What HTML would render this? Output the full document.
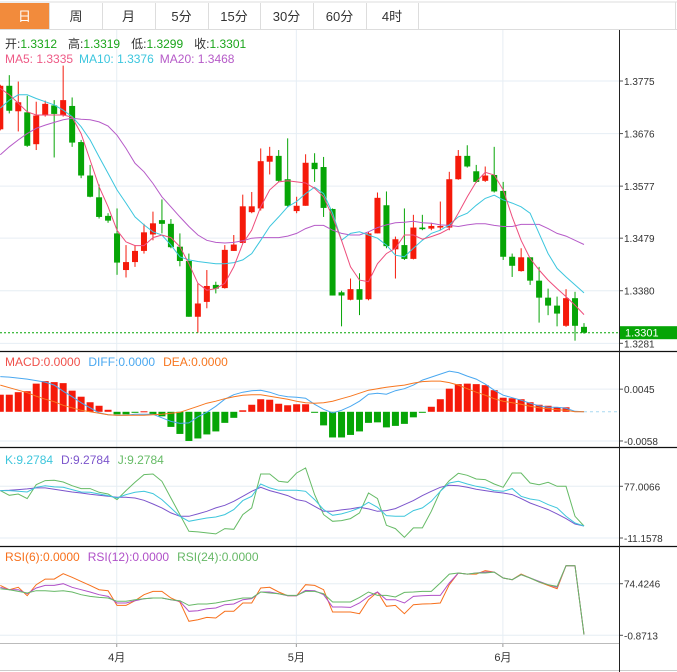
<!DOCTYPE html>
<html><head><meta charset="utf-8"><style>
html,body{margin:0;padding:0;background:#fff;}
svg{display:block;font-family:"Liberation Sans","Noto Sans CJK SC",sans-serif;}
</style></head><body>
<svg id="c" width="677" height="672" viewBox="0 0 677 672" xmlns="http://www.w3.org/2000/svg">
<rect x="0" y="0" width="677" height="672" fill="#fff"/>
<g>
<line x1="0" y1="2" x2="677" y2="2" stroke="#ddd"/>
<line x1="0" y1="29.5" x2="677" y2="29.5" stroke="#ddd"/>
<line x1="675.5" y1="2" x2="675.5" y2="29" stroke="#ddd"/>
<rect x="0" y="3" width="49" height="26" fill="#f28b3c"/>
<text x="24.5" y="21" text-anchor="middle" font-size="13" fill="#fff">日</text>
<g fill="#333" font-size="13" text-anchor="middle">
<text x="76" y="21">周</text>
<text x="128.5" y="21">月</text>
<text x="181.5" y="21">5分</text>
<text x="234" y="21">15分</text>
<text x="286.5" y="21">30分</text>
<text x="339.5" y="21">60分</text>
<text x="392" y="21">4时</text>
</g>
<g stroke="#ddd"><line x1="49.5" y1="3" x2="49.5" y2="29"/><line x1="102.5" y1="3" x2="102.5" y2="29"/><line x1="155.5" y1="3" x2="155.5" y2="29"/><line x1="208.5" y1="3" x2="208.5" y2="29"/><line x1="260.5" y1="3" x2="260.5" y2="29"/><line x1="313.5" y1="3" x2="313.5" y2="29"/><line x1="366.5" y1="3" x2="366.5" y2="29"/><line x1="418.5" y1="3" x2="418.5" y2="29"/></g>
</g>
<g id="grid"></g>
<g id="marks"></g>
<g id="labels"></g>
</svg>
<script>
const opens=[1.3684,1.3766,1.3718,1.3716,1.3656,1.3710,1.3729,1.3711,1.3728,1.3660,1.3597,1.3556,1.3521,1.3488,1.3419,1.3434,1.3455,1.3486,1.3513,1.3506,1.3463,1.3436,1.3331,1.3359,1.3391,1.3385,1.3455,1.3470,1.3528,1.3535,1.3623,1.3634,1.3590,1.3530,1.3540,1.3621,1.3613,1.3534,1.3377,1.3363,1.3383,1.3364,1.3488,1.3541,1.3458,1.3466,1.3440,1.3499,1.3497,1.3499,1.3499,1.3590,1.3634,1.3605,1.3587,1.3598,1.3568,1.3444,1.3417,1.3443,1.3399,1.3367,1.3352,1.3314,1.3366,1.3312];
const closes=[1.3766,1.3719,1.3735,1.3653,1.3710,1.3732,1.3713,1.3739,1.3659,1.3597,1.3557,1.3519,1.3512,1.3433,1.3434,1.3455,1.3490,1.3507,1.3506,1.3462,1.3436,1.3331,1.3356,1.3389,1.3384,1.3457,1.3467,1.3539,1.3539,1.3624,1.3634,1.3587,1.3540,1.3540,1.3621,1.3609,1.3536,1.3371,1.3371,1.3383,1.3363,1.3488,1.3555,1.3464,1.3477,1.3440,1.3499,1.3496,1.3502,1.3502,1.3590,1.3634,1.3614,1.3585,1.3597,1.3567,1.3444,1.3427,1.3443,1.3399,1.3367,1.3352,1.3337,1.3366,1.3314,1.3301];
const highs=[1.3768,1.3786,1.3774,1.3747,1.3736,1.3738,1.3739,1.3804,1.3744,1.3664,1.3617,1.3580,1.3526,1.3535,1.3466,1.3466,1.3506,1.3529,1.3552,1.3515,1.3488,1.3450,1.3394,1.3419,1.3397,1.3466,1.3485,1.3561,1.3566,1.3648,1.3651,1.3645,1.3667,1.3557,1.3637,1.3639,1.3632,1.3535,1.3380,1.3403,1.3413,1.3491,1.3565,1.3567,1.3482,1.3535,1.3523,1.3523,1.3508,1.3548,1.3604,1.3645,1.3654,1.3617,1.3614,1.3651,1.3585,1.3450,1.3460,1.3443,1.3425,1.3384,1.3369,1.3383,1.3378,1.3319];
const lows=[1.3682,1.3714,1.3680,1.3651,1.3645,1.3708,1.3631,1.3708,1.3651,1.3592,1.3556,1.3516,1.3508,1.3410,1.3405,1.3425,1.3450,1.3475,1.3488,1.3460,1.3426,1.3331,1.3301,1.3347,1.3375,1.3384,1.3455,1.3469,1.3526,1.3531,1.3599,1.3585,1.3537,1.3526,1.3540,1.3585,1.3519,1.3371,1.3313,1.3362,1.3334,1.3362,1.3488,1.3460,1.3403,1.3438,1.3439,1.3494,1.3494,1.3494,1.3494,1.3589,1.3612,1.3583,1.3585,1.3565,1.3438,1.3406,1.3416,1.3391,1.3320,1.3334,1.3313,1.3312,1.3286,1.3299];
const ma5=[1.3761,1.3749,1.3733,1.3717,1.3711,1.3711,1.3711,1.3711,1.3707,1.3676,1.3626,1.3576,1.3538,1.3494,1.3472,1.3465,1.3465,1.3480,1.3485,1.3480,1.3463,1.3431,1.3394,1.3381,1.3384,1.3394,1.3425,1.3469,1.3494,1.3538,1.3570,1.3585,1.3587,1.3585,1.3583,1.3573,1.3557,1.3519,1.3475,1.3425,1.3400,1.3397,1.3431,1.3450,1.3460,1.3485,1.3485,1.3477,1.3482,1.3488,1.3497,1.3526,1.3557,1.3585,1.3603,1.3598,1.3570,1.3519,1.3475,1.3441,1.3419,1.3400,1.3384,1.3369,1.3353,1.3335];
const ma10=[1.3724,1.3739,1.3749,1.3749,1.3742,1.3736,1.3730,1.3720,1.3708,1.3689,1.3664,1.3632,1.3601,1.3570,1.3545,1.3519,1.3504,1.3491,1.3485,1.3466,1.3444,1.3438,1.3435,1.3433,1.3431,1.3431,1.3433,1.3438,1.3450,1.3475,1.3501,1.3519,1.3538,1.3548,1.3563,1.3575,1.3563,1.3526,1.3475,1.3488,1.3491,1.3485,1.3479,1.3466,1.3447,1.3444,1.3460,1.3475,1.3488,1.3494,1.3504,1.3519,1.3526,1.3541,1.3554,1.3560,1.3551,1.3545,1.3538,1.3526,1.3488,1.3450,1.3422,1.3406,1.3391,1.3376];
const ma20=[1.3636,1.3651,1.3664,1.3676,1.3686,1.3692,1.3697,1.3702,1.3705,1.3703,1.3702,1.3698,1.3690,1.3673,1.3648,1.3620,1.3604,1.3582,1.3557,1.3538,1.3519,1.3501,1.3485,1.3475,1.3471,1.3470,1.3471,1.3474,1.3479,1.3480,1.3480,1.3480,1.3483,1.3488,1.3497,1.3503,1.3503,1.3494,1.3488,1.3485,1.3485,1.3491,1.3499,1.3504,1.3508,1.3509,1.3511,1.3508,1.3507,1.3504,1.3503,1.3501,1.3504,1.3506,1.3506,1.3503,1.3501,1.3501,1.3505,1.3505,1.3505,1.3497,1.3488,1.3483,1.3475,1.3467];
const macdHist=[0.0034,0.0034,0.0039,0.0041,0.0056,0.0061,0.0059,0.0057,0.0042,0.0030,0.0019,0.0012,0.0004,-0.0005,-0.0005,-0.0001,0.0001,-0.0005,-0.0009,-0.0030,-0.0044,-0.0058,-0.0053,-0.0045,-0.0039,-0.0022,-0.0012,0.0003,0.0014,0.0025,0.0024,0.0016,0.0013,0.0015,0.0015,-0.0001,-0.0027,-0.0051,-0.0051,-0.0046,-0.0039,-0.0022,-0.0021,-0.0031,-0.0028,-0.0024,-0.0011,-0.0001,0.0010,0.0025,0.0046,0.0055,0.0056,0.0055,0.0053,0.0043,0.0028,0.0027,0.0025,0.0019,0.0014,0.0012,0.0009,0.0009,0,0];
const diff=[0.0070,0.0069,0.0067,0.0065,0.0062,0.0059,0.0053,0.0041,0.0030,0.0018,0.0008,-0.0002,-0.0006,-0.0007,-0.0007,-0.0005,-0.0005,-0.0005,-0.0012,-0.0019,-0.0023,-0.0022,-0.0010,-0.0001,0.0011,0.0025,0.0034,0.0039,0.0042,0.0043,0.0039,0.0033,0.0030,0.0029,0.0027,0.0015,0.0005,-0.0002,0.0003,0.0011,0.0021,0.0035,0.0037,0.0035,0.0042,0.0046,0.0053,0.0063,0.0069,0.0075,0.0081,0.0078,0.0071,0.0065,0.0055,0.0043,0.0033,0.0028,0.0023,0.0017,0.0012,0.0009,0.0009,0.0007,0.0001,0];
const dea=[0.0053,0.0048,0.0043,0.0038,0.0031,0.0025,0.0020,0.0013,0.0008,0.0003,0,-0.0003,-0.0006,-0.0007,-0.0007,-0.0007,-0.0007,-0.0006,-0.0005,-0.0003,-0.0001,0.0005,0.0011,0.0017,0.0021,0.0026,0.0030,0.0033,0.0034,0.0034,0.0031,0.0028,0.0025,0.0021,0.0018,0.0017,0.0018,0.0021,0.0026,0.0031,0.0037,0.0043,0.0046,0.0049,0.0051,0.0053,0.0057,0.0060,0.0061,0.0061,0.0058,0.0053,0.0046,0.0039,0.0033,0.0026,0.0021,0.0018,0.0015,0.0011,0.0008,0.0006,0.0004,0.0003,0,0];
const kVals=[69.6,69.6,68.5,67.3,75.3,78.1,75.9,75.3,71.3,67.3,66.8,63.9,61.1,57.1,62.8,66.8,68.5,64.5,54.3,40.1,25.9,17.4,20.2,23.0,24.7,28.7,37.2,52.6,60.0,81.0,74.2,70.2,70.2,70.2,68.5,54.3,37.2,27.6,29.9,34.4,40.1,49.7,41.2,27.0,25.9,25.9,35.5,40.1,51.4,68.5,82.7,85.5,81.0,77.0,74.2,69.6,68.5,73.0,60.0,55.4,53.1,45.8,40.1,25.9,14.5,9.28];
const dVals=[69.6,70.2,71.3,72.5,74.2,74.2,71.9,69.6,67.3,65.6,63.4,61.7,60.0,58.3,58.3,57.1,53.1,46.9,40.1,31.6,25.9,25.9,29.9,34.4,40.1,44.6,51.4,60.0,68.5,75.3,69.6,65.6,61.1,54.3,51.4,42.9,34.4,34.4,36.7,38.4,41.2,38.4,34.4,35.5,38.9,45.8,52.6,61.1,68.5,75.3,78.7,78.1,75.3,71.9,69.6,67.3,65.6,62.8,56.0,48.6,42.9,37.2,29.9,21.9,12.8,9.28];
const jVals=[69.6,61.7,63.9,56.0,79.8,86.7,87.2,84.4,78.1,73.0,73.0,66.8,63.9,54.3,69.6,83.8,96.9,98.0,85.5,57.1,28.7,0.3,-0.8,-2.5,-4.2,4.9,3.7,28.7,40.1,98.0,98.0,85.5,83.8,99.7,108.2,62.8,28.7,17.4,18.5,21.9,31.6,65.6,56.0,10.5,4.9,-9.9,6.0,6.0,34.4,68.5,86.7,99.2,95.7,89.5,88.4,81.0,75.3,99.7,99.7,82.7,79.8,83.8,77.0,77.0,25.9,9.28];
const rsi6=[72.0,65.7,69.1,56.9,73.0,81.2,81.2,89.0,83.7,77.8,72.0,65.7,64.2,42.8,42.8,49.6,58.4,63.2,63.2,53.5,47.7,19.5,21.9,25.3,24.4,34.1,34.1,46.2,46.2,68.1,69.1,62.3,56.9,56.9,73.0,72.0,65.7,33.1,33.1,33.1,30.7,51.1,62.3,41.4,42.8,30.7,43.8,44.8,45.3,46.2,73.0,90.0,88.5,88.5,93.4,91.4,82.7,80.3,88.5,82.7,76.9,72.0,67.1,100.7,100.7,0.1];
const rsi12=[69.1,65.7,65.7,59.8,68.1,72.0,72.0,74.4,69.1,65.7,62.3,58.4,55.9,46.2,46.2,49.6,52.6,53.5,53.5,51.1,48.7,34.1,35.1,38.0,38.9,43.8,44.8,51.1,52.6,62.3,62.3,59.8,56.9,56.9,64.7,64.2,58.4,40.4,40.4,39.9,46.2,55.9,62.3,51.1,51.1,46.2,55.9,56.9,57.4,57.4,75.4,90.0,88.5,90.0,91.4,91.4,82.7,80.3,87.5,82.7,77.8,73.0,69.1,100.7,100.7,0.1];
const rsi24=[67.1,65.7,63.2,60.8,64.2,64.2,63.2,64.2,62.3,58.4,55.9,54.5,53.5,48.7,48.7,51.1,52.6,53.5,53.5,51.1,49.6,42.8,44.8,44.8,46.2,48.7,51.1,53.5,53.5,62.3,60.8,59.8,57.4,57.4,63.2,63.2,59.8,47.7,47.7,47.7,54.5,62.3,57.4,57.4,55.0,61.8,62.3,63.2,63.2,75.4,88.5,90.0,88.5,90.0,90.0,91.4,82.7,80.3,87.5,82.7,76.9,73.0,70.5,100.7,100.7,0.1];
const priceTicks=["1.3775","1.3676","1.3577","1.3479","1.3380","1.3281"];
const macdTicks=["0.0045","-0.0058"];
const kdjTicks=["77.0066","-11.1578"];
const rsiTicks=["74.4246","-0.8713"];
const monthLabels=["4月","5月","6月"];
const monthIdx=[13,33,56];

const NS="http://www.w3.org/2000/svg";
const PR=619;
function mk(tag,attrs,parent){const e=document.createElementNS(NS,tag);for(const k in attrs)e.setAttribute(k,attrs[k]);parent.appendChild(e);return e;}
const grid=document.getElementById('grid'),marks=document.getElementById('marks'),labels=document.getElementById('labels');
function xOf(i){return 0.3+8.98*i;}
function yP(p){return 81+(1.3775-p)*5310;}
function yM(v){return 411.8-v*5030;}
function yK(v){return 486.3-(v-77.0066)/1.705;}
function yR(v){return 583.7-(v-74.4246)/1.459;}
const RED="#f51a0a",GREEN="#06a506";

const defs=mk('defs',{},document.getElementById('c'));
[['cp',30,322],['cm',352,96],['ck',448,98],['cr',547,96]].forEach(function(a){const cp=mk('clipPath',{id:a[0]},defs);mk('rect',{x:0,y:a[1],width:PR,height:a[2]},cp);});

function hline(y,name){const l=mk('line',{x1:0,y1:y,x2:PR,y2:y,stroke:'#e6eef4','stroke-width':1},grid);}
function tickLabel(y,t,name){mk('line',{x1:PR,y1:y,x2:PR+4,y2:y,stroke:'#555'},labels);const tx=mk('text',{x:PR+5,y:y+4,'font-size':10,fill:'#333'},labels);tx.textContent=t;}
priceTicks.forEach(function(t){const y=yP(parseFloat(t));hline(y,'price-gridline');tickLabel(y,t,'price-tick-label');});
macdTicks.forEach(function(t){const y=yM(parseFloat(t));hline(y,'macd-gridline');tickLabel(y,t,'macd-tick-label');});
kdjTicks.forEach(function(t){const y=yK(parseFloat(t));hline(y,'kdj-gridline');tickLabel(y,t,'kdj-tick-label');});
rsiTicks.forEach(function(t){const y=yR(parseFloat(t));hline(y,'rsi-gridline');tickLabel(y,t,'rsi-tick-label');});
monthIdx.forEach(function(idx,k){const x=xOf(idx)-0.3;const l=mk('line',{x1:x,y1:30,x2:x,y2:643,stroke:'#e6eef4'},grid);
 mk('line',{x1:x,y1:643,x2:x,y2:647,stroke:'#999'},labels);
 const t=mk('text',{x:x,y:661,'font-size':11,fill:'#333','text-anchor':'middle'},labels);t.textContent=monthLabels[k];});

const cg=mk('g',{'clip-path':'url(#cp)'},marks);

for(let i=0;i<closes.length;i++){
 const up=closes[i]>=opens[i];const col=up?RED:GREEN;const x=xOf(i);
 const w=mk('line',{x1:x,y1:yP(highs[i]),x2:x,y2:yP(lows[i]),stroke:col,'stroke-width':1},cg);
 
 const t=Math.min(yP(opens[i]),yP(closes[i]));const h=Math.max(1,Math.abs(yP(opens[i])-yP(closes[i])));
 const b=mk('rect',{x:x-3,y:t,width:6,height:h,fill:col},cg);
 
}
function poly(arr,yf,color,name,clip){const pts=arr.map(function(v,i){return xOf(i).toFixed(1)+','+yf(v).toFixed(1);}).join(' ');
 const p=mk('polyline',{points:pts,fill:'none',stroke:color,'stroke-width':1,'clip-path':'url(#'+clip+')'},marks);
 }
poly(ma20,yP,'#b65bc8','ma20-line','cp');
poly(ma10,yP,'#3cc6de','ma10-line','cp');
poly(ma5,yP,'#ee4d7c','ma5-line','cp');
const cy=yP(closes[closes.length-1]);
const cl=mk('line',{x1:0,y1:cy,x2:PR,y2:cy,stroke:GREEN,'stroke-width':1,'stroke-dasharray':'2,2'},marks);

const pb=mk('rect',{x:PR+1,y:cy-6.5,width:58,height:13,fill:GREEN},labels);

const pt=mk('text',{x:PR+6,y:cy+4,'font-size':11,fill:'#fff'},labels);pt.textContent=closes[closes.length-1].toFixed(4);


const mg=mk('g',{'clip-path':'url(#cm)'},marks);

const z=yM(0);
for(let i=0;i<macdHist.length;i++){const v=macdHist[i];if(v===0)continue;const y=yM(v);
 const r=mk('rect',{x:xOf(i)-3.5,y:Math.min(y,z),width:7,height:Math.max(1,Math.abs(y-z)),fill:v>0?RED:GREEN},mg);
 }
poly(diff,yM,'#4aa8f0','diff-line','cm');
poly(dea,yM,'#f7761f','dea-line','cm');
const zl=mk('line',{x1:xOf(macdHist.length-1),y1:z,x2:PR,y2:z,stroke:'#a8d8f0','stroke-dasharray':'3,3'},marks);

poly(jVals,yK,'#66bb66','j-line','ck');
poly(dVals,yK,'#7c55cc','d-line','ck');
poly(kVals,yK,'#3ec6dc','k-line','ck');
poly(rsi6,yR,'#f7701c','rsi6-line','cr');
poly(rsi12,yR,'#b050c8','rsi12-line','cr');
poly(rsi24,yR,'#66b866','rsi24-line','cr');

[[351.5,'main-macd-separator'],[447.5,'macd-kdj-separator'],[546.5,'kdj-rsi-separator']].forEach(function(a){const l=mk('line',{x1:0,y1:a[0],x2:677,y2:a[0],stroke:'#111','stroke-width':1.2},labels);});
const xa=mk('line',{x1:0,y1:643.5,x2:PR,y2:643.5,stroke:'#bbb'},labels);
const bl=mk('line',{x1:0,y1:670.5,x2:677,y2:670.5,stroke:'#ccc'},labels);
const ra=mk('line',{x1:PR+0.5,y1:30,x2:PR+0.5,y2:672,stroke:'#222'},labels);

function leg(y,parts,name){const t=mk('text',{x:5,y:y,'font-size':12},labels);
 parts.forEach(function(p){const s=document.createElementNS(NS,'tspan');s.setAttribute('fill',p[1]);if(p[2])s.setAttribute('dx',p[2]);s.textContent=p[0];t.appendChild(s);});}
leg(48,[['开:','#333'],['1.3312','#1aa51a'],['高:','#333',11],['1.3319','#1aa51a'],['低:','#333',11],['1.3299','#1aa51a'],['收:','#333',11],['1.3301','#1aa51a']],'ohlc-legend');
leg(63,[['MA5: 1.3335','#ee5a86'],['MA10: 1.3376','#3cc6de',6],['MA20: 1.3468','#b65bc8',6]],'ma-legend');
leg(366,[['MACD:0.0000','#f0504a'],['DIFF:0.0000','#4aa8f0',8],['DEA:0.0000','#f7761f',8]],'macd-legend');
leg(464,[['K:9.2784','#3ec6dc'],['D:9.2784','#7c55cc',8],['J:9.2784','#66bb66',8]],'kdj-legend');
leg(561,[['RSI(6):0.0000','#f7701c'],['RSI(12):0.0000','#b050c8',8],['RSI(24):0.0000','#66b866',8]],'rsi-legend');
</script>
</body></html>
